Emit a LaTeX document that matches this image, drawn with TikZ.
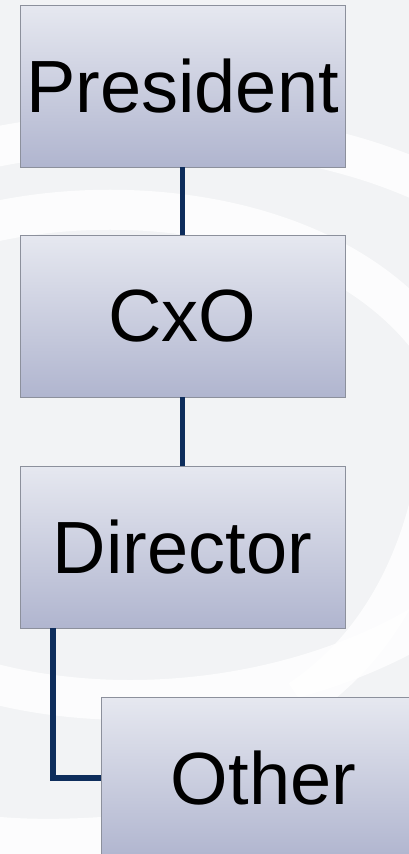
\documentclass[tikz,border=0pt]{standalone}
\usepackage{fontspec}
\setmainfont{Liberation Sans}
\definecolor{bggray}{HTML}{F2F3F5}
\definecolor{boxtop}{HTML}{E6E8F0}
\definecolor{boxbot}{HTML}{B0B5CF}
\definecolor{boxline}{HTML}{8C909C}
\definecolor{connector}{HTML}{0E2D5C}
\tikzset{
  orgbox/.style={draw=boxline, line width=0.8pt, top color=boxtop, bottom color=boxbot,
    minimum width=325pt, minimum height=162pt, inner sep=0pt, outer sep=0pt,
    font=\fontsize{74}{80}\selectfont, text=black},
  link/.style={draw=connector, line width=5.5pt},
  swirl/.style={draw=white, line width=40pt, draw opacity=0.8}
}
\begin{document}
\begin{tikzpicture}[x=1pt,y=-1pt]
\useasboundingbox (0,0) rectangle (409,854);
\fill[bggray] (0,0) rectangle (409,854);
\begin{scope}
\clip (0,0) rectangle (409,854);
\draw[swirl] (-20,150) .. controls (120,120) and (300,120) .. (440,190);
\draw[swirl] (-20,225) .. controls (120,190) and (330,210) .. (430,340);
\draw[swirl] (430,260) .. controls (470,450) and (420,620) .. (300,700);
\draw[swirl] (-20,680) .. controls (120,720) and (300,700) .. (430,620);
\draw[swirl] (-20,835) .. controls (100,850) and (300,820) .. (430,760);
\end{scope}
\node[orgbox] (pres) at (182.5,86) {President};
\node[orgbox] (cxo) at (182.5,316) {CxO};
\node[orgbox] (dir) at (182.5,547) {Director};
\node[orgbox] (other) at (263.5,778) {Other};
\draw[link] (pres.south) -- (cxo.north);
\draw[link] (cxo.south) -- (dir.north);
\draw[link] ([xshift=33pt]dir.south west) |- (other.west);
\end{tikzpicture}
\end{document}
